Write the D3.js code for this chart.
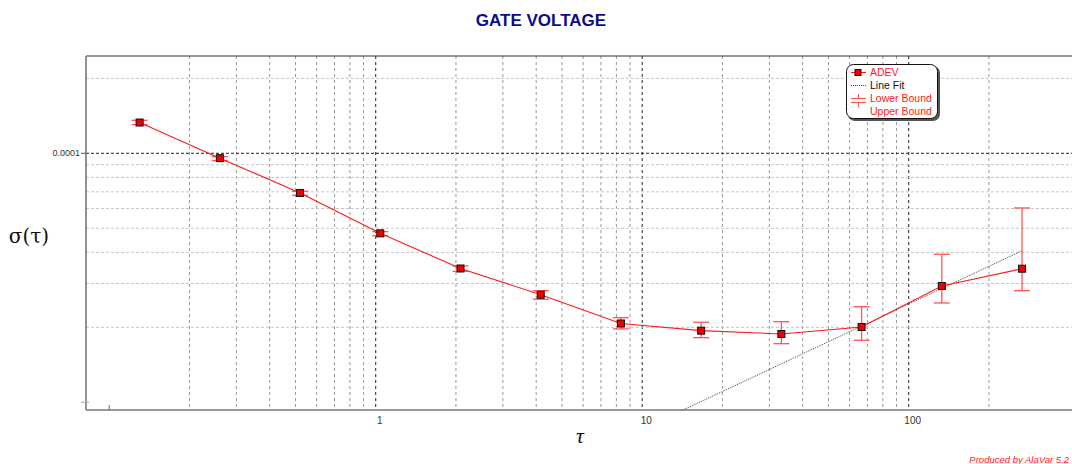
<!DOCTYPE html>
<html>
<head>
<meta charset="utf-8">
<script src="https://cdn.jsdelivr.net/npm/d3@7"></script>
<style>
  body { margin: 0; background: #fff; }
  svg { display: block; font-family: "Liberation Sans", Arial, sans-serif; }
</style>
</head>
<body>
<div id="chart"></div>
<script>
// averaging times and Allan deviation values
let taus = [0.13, 0.26, 0.52, 1.04, 2.08, 4.16, 8.32, 16.64, 33.28, 66.56, 133.12, 266.24];
let adev = [1.329e-4, 9.56e-5, 6.93e-5, 4.77e-5, 3.446e-5, 2.703e-5, 2.072e-5, 1.939e-5, 1.88e-5, 2.006e-5, 2.931e-5, 3.439e-5];
let lowerBound = [1.303e-4, 9.34e-5, 6.78e-5, 4.667e-5, 3.358e-5, 2.593e-5, 1.971e-5, 1.817e-5, 1.719e-5, 1.774e-5, 2.505e-5, 2.807e-5];
let upperBound = [1.357e-4, 9.69e-5, 7.04e-5, 4.844e-5, 3.527e-5, 2.807e-5, 2.186e-5, 2.096e-5, 2.107e-5, 2.42e-5, 3.93e-5, 6.031e-5];

// line fit end points
let fitTau = [14.2, 266.24];
let fitVal = [9.3e-6, 4.06e-5];

let xGrid = [0.2, 0.3, 0.4, 0.5, 0.6, 0.7, 0.8, 0.9, 1, 2, 3, 4, 5, 6, 7, 8, 9, 10, 20, 30, 40, 50, 60, 70, 80, 90, 100, 200];
let xMajor = [1, 10, 100];
let xLabels = ['1', '10', '100'];
let yGrid = [2e-4, 1e-4, 9e-5, 8e-5, 7e-5, 6e-5, 5e-5, 4e-5, 3e-5, 2e-5];
let yMajor = [1e-4];
let yLabels = ['0.0001'];

let legendItems = ['ADEV', 'Line Fit', 'Lower Bound', 'Upper Bound'];

let W = 1072, H = 464;
let margin = { top: 56, right: 0, bottom: 54, left: 86 };
let width = W - margin.left - margin.right;
let height = H - margin.top - margin.bottom;

let svg = d3.select('#chart')
    .append('svg')
    .attr('width', W)
    .attr('height', H);

let x = d3.scaleLog().domain([0.0818, 410]).range([0, width]);
let y = d3.scaleLog().domain([9.31e-6, 2.459e-4]).range([height, 0]);

svg.append('defs').append('clipPath').attr('id', 'clip')
    .append('rect').attr('width', width).attr('height', height);

let g = svg.append('g')
    .attr('transform', 'translate(' + margin.left + ',' + margin.top + ')');

// title
svg.append('text')
    .attr('x', 541).attr('y', 26)
    .attr('text-anchor', 'middle')
    .style('font-size', '17px').style('font-weight', 'bold')
    .style('fill', '#0c0c8a')
    .text('GATE VOLTAGE');

// grid lines
g.selectAll('.vgrid')
    .data(xGrid)
    .enter()
    .append('line')
    .attr('x1', d => x(d)).attr('x2', d => x(d))
    .attr('y1', 0).attr('y2', height)
    .style('stroke', d => xMajor.includes(d) ? '#222' : '#999')
    .style('stroke-width', 1)
    .style('stroke-dasharray', '3,3');

g.selectAll('.hgrid')
    .data(yGrid)
    .enter()
    .append('line')
    .attr('x1', 0).attr('x2', width)
    .attr('y1', d => y(d)).attr('y2', d => y(d))
    .style('stroke', d => yMajor.includes(d) ? '#222' : '#c4c4c4')
    .style('stroke-width', 1)
    .style('stroke-dasharray', '3,2');

// frame
g.append('line').attr('x1', 0).attr('x2', width).attr('y1', 0).attr('y2', 0)
    .style('stroke', '#333').style('stroke-width', 1.2);
g.append('line').attr('x1', 0).attr('x2', 0).attr('y1', 0).attr('y2', height)
    .style('stroke', '#777').style('stroke-width', 1.6);
g.append('line').attr('x1', 0).attr('x2', width).attr('y1', height).attr('y2', height)
    .style('stroke', '#777').style('stroke-width', 1.6);

// small ticks
g.append('line').attr('x1', x(0.1)).attr('x2', x(0.1)).attr('y1', height).attr('y2', height - 5)
    .style('stroke', '#777');
g.append('line').attr('x1', -5).attr('x2', 3).attr('y1', y(1e-5)).attr('y2', y(1e-5))
    .style('stroke', '#aaa');
g.append('line').attr('x1', -5).attr('x2', 0).attr('y1', y(1e-4)).attr('y2', y(1e-4))
    .style('stroke', '#555');

// tick labels
g.selectAll('.xlab')
    .data(xMajor)
    .enter()
    .append('text')
    .attr('x', d => x(d) + 4).attr('y', height + 14)
    .attr('text-anchor', 'middle')
    .style('font-size', '10px').style('fill', '#333')
    .text((d, i) => xLabels[i]);

g.selectAll('.ylab')
    .data(yMajor)
    .enter()
    .append('text')
    .attr('x', -6).attr('y', d => y(d) + 3)
    .attr('text-anchor', 'end')
    .style('font-size', '9px').style('fill', '#333')
    .text((d, i) => yLabels[i]);

// axis labels
svg.append('text')
    .attr('x', 29).attr('y', 243)
    .attr('text-anchor', 'middle')
    .style('font-family', '"DejaVu Serif", "Liberation Serif", serif')
    .style('font-size', '20px').style('fill', '#111')
    .text('σ(τ)');

svg.append('text')
    .attr('x', 580).attr('y', 443)
    .attr('text-anchor', 'middle')
    .style('font-family', '"Liberation Serif", serif')
    .style('font-style', 'italic')
    .style('font-size', '22px').style('fill', '#111')
    .text('τ');

svg.append('text')
    .attr('x', 1069).attr('y', 463)
    .attr('text-anchor', 'end')
    .style('font-style', 'italic')
    .style('font-size', '9.5px').style('fill', '#ff2020')
    .text('Produced by AlaVar 5.2');

let plot = g.append('g').attr('clip-path', 'url(#clip)');

// line fit
let fitData = fitTau.map((t, i) => ({ t: t, v: fitVal[i] }));
plot.append('path')
    .datum(fitData)
    .attr('d', d3.line().x(d => x(d.t)).y(d => y(d.v)))
    .style('fill', 'none')
    .style('stroke', '#444')
    .style('stroke-width', 1)
    .style('stroke-dasharray', '1,1');

let points = taus.map((t, i) => ({ t: t, v: adev[i], lo: lowerBound[i], hi: upperBound[i] }));

// error bars
let eb = plot.selectAll('.eb')
    .data(points)
    .enter()
    .append('g')
    .style('stroke', '#ff5555')
    .style('stroke-width', 1.3);
eb.append('line')
    .attr('x1', d => x(d.t)).attr('x2', d => x(d.t))
    .attr('y1', d => y(d.lo)).attr('y2', d => y(d.hi));
eb.append('line')
    .attr('x1', d => x(d.t) - 8).attr('x2', d => x(d.t) + 8)
    .attr('y1', d => y(d.lo)).attr('y2', d => y(d.lo));
eb.append('line')
    .attr('x1', d => x(d.t) - 8).attr('x2', d => x(d.t) + 8)
    .attr('y1', d => y(d.hi)).attr('y2', d => y(d.hi));

// adev line
plot.append('path')
    .datum(points)
    .attr('d', d3.line().x(d => x(d.t)).y(d => y(d.v)))
    .style('fill', 'none')
    .style('stroke', '#ff1a1a')
    .style('stroke-width', 1.1);

plot.selectAll('.mk')
    .data(points)
    .enter()
    .append('rect')
    .attr('x', d => x(d.t) - 3.5).attr('y', d => y(d.v) - 3.5)
    .attr('width', 7).attr('height', 7)
    .style('fill', '#ee0000')
    .style('stroke', '#111')
    .style('stroke-width', 1);

// legend
let lg = svg.append('g').attr('transform', 'translate(846,64)');
lg.append('rect')
    .attr('x', 2).attr('y', 2).attr('width', 92).attr('height', 55).attr('rx', 7)
    .style('fill', '#555');
lg.append('rect')
    .attr('x', 0.5).attr('y', 0.5).attr('width', 91).attr('height', 54).attr('rx', 7)
    .style('fill', '#fff').style('stroke', '#111').style('stroke-width', 1);

lg.selectAll('.lt')
    .data(legendItems)
    .enter()
    .append('text')
    .attr('x', 24).attr('y', (d, i) => 12 + i * 13)
    .style('font-size', '10.5px')
    .style('fill', (d, i) => i == 1 ? '#111' : '#ff2020')
    .text(d => d);

lg.append('line').attr('x1', 5).attr('x2', 20).attr('y1', 8.5).attr('y2', 8.5)
    .style('stroke', '#ff1a1a');
lg.append('rect').attr('x', 9).attr('y', 5.5).attr('width', 6).attr('height', 6)
    .style('fill', '#ee0000').style('stroke', '#111');
lg.append('line').attr('x1', 5).attr('x2', 20).attr('y1', 21.5).attr('y2', 21.5)
    .style('stroke', '#444').style('stroke-dasharray', '1,1');
lg.append('line').attr('x1', 5).attr('x2', 20).attr('y1', 34.5).attr('y2', 34.5)
    .style('stroke', '#ff5555').style('stroke-width', 1.2);
lg.append('line').attr('x1', 12.5).attr('x2', 12.5).attr('y1', 30).attr('y2', 34.5)
    .style('stroke', '#ff5555');
lg.append('line').attr('x1', 5).attr('x2', 20).attr('y1', 38.5).attr('y2', 38.5)
    .style('stroke', '#ff5555').style('stroke-width', 1.2);
lg.append('line').attr('x1', 12.5).attr('x2', 12.5).attr('y1', 38.5).attr('y2', 43)
    .style('stroke', '#ff5555');
</script>
</body>
</html>
